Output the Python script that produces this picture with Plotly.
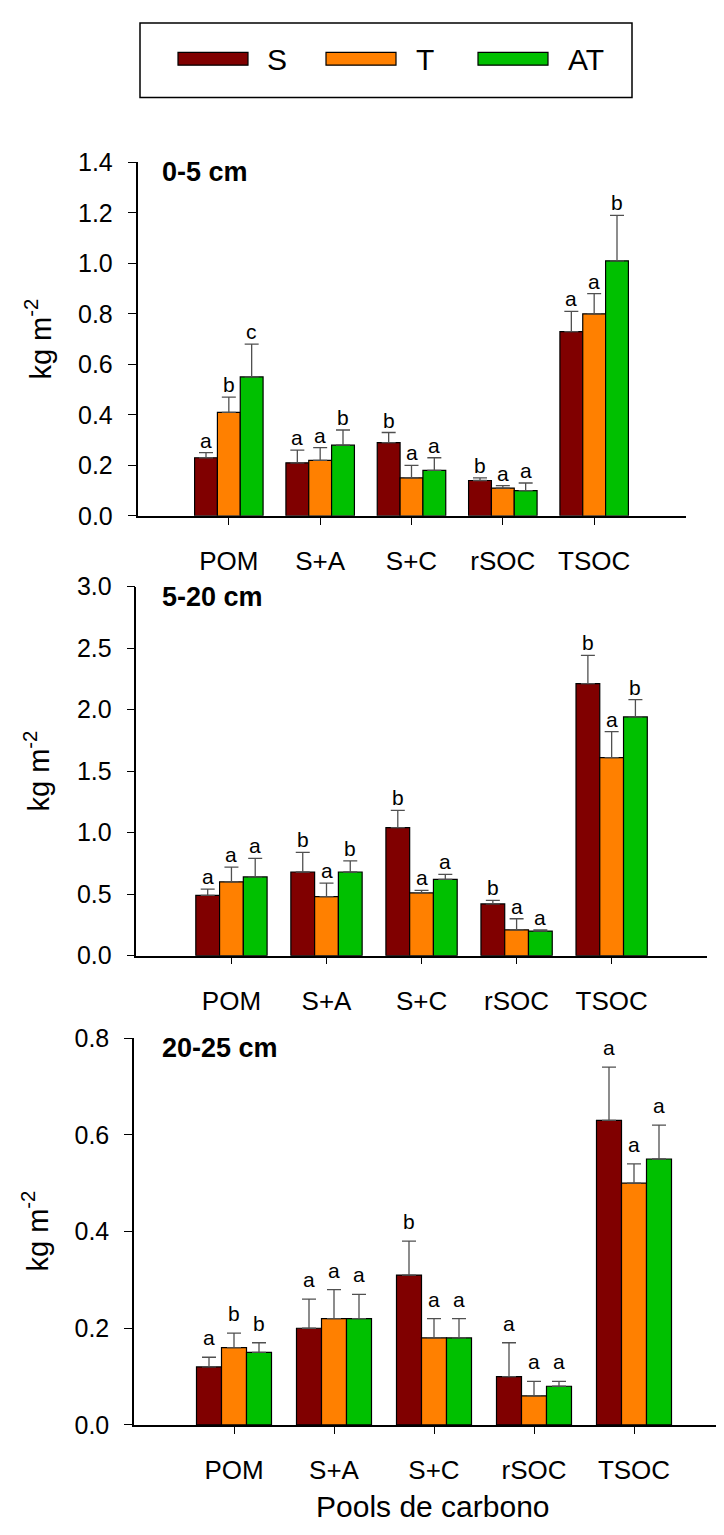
import plotly.graph_objects as go

categories = ["POM", "S+A", "S+C", "rSOC", "TSOC"]
treatments = ["S", "T", "AT"]
colors = ["#800000", "#FF8000", "#00C000"]

# ---- 0-5 cm ----
d1_S = [0.23, 0.21, 0.29, 0.14, 0.73]
d1_T = [0.41, 0.22, 0.15, 0.11, 0.80]
d1_AT = [0.55, 0.28, 0.18, 0.10, 1.01]
e1_S = [0.02, 0.05, 0.04, 0.01, 0.08]
e1_T = [0.06, 0.05, 0.05, 0.01, 0.08]
e1_AT = [0.13, 0.06, 0.05, 0.03, 0.18]
l1_S = ["a", "a", "b", "b", "a"]
l1_T = ["b", "a", "a", "a", "a"]
l1_AT = ["c", "b", "a", "a", "b"]

# ---- 5-20 cm ----
d2_S = [0.49, 0.68, 1.04, 0.42, 2.21]
d2_T = [0.60, 0.48, 0.51, 0.21, 1.61]
d2_AT = [0.64, 0.68, 0.62, 0.20, 1.94]
e2_S = [0.05, 0.16, 0.14, 0.03, 0.23]
e2_T = [0.12, 0.11, 0.02, 0.09, 0.21]
e2_AT = [0.15, 0.09, 0.04, 0.01, 0.14]
l2_S = ["a", "b", "b", "b", "b"]
l2_T = ["a", "a", "a", "a", "a"]
l2_AT = ["a", "b", "a", "a", "b"]

# ---- 20-25 cm ----
d3_S = [0.12, 0.20, 0.31, 0.10, 0.63]
d3_T = [0.16, 0.22, 0.18, 0.06, 0.50]
d3_AT = [0.15, 0.22, 0.18, 0.08, 0.55]
e3_S = [0.02, 0.06, 0.07, 0.07, 0.11]
e3_T = [0.03, 0.06, 0.04, 0.03, 0.04]
e3_AT = [0.02, 0.05, 0.04, 0.01, 0.07]
l3_S = ["a", "a", "b", "a", "a"]
l3_T = ["b", "a", "a", "a", "a"]
l3_AT = ["b", "a", "a", "a", "a"]

panel_titles = ["0-5 cm", "5-20 cm", "20-25 cm"]
y_title = "kg m<sup>-2</sup>"
x_title = "Pools de carbono"

W, H = 724, 1535
OFF = 8  # page body margin
FONT = "Liberation Sans, Arial, sans-serif"
BARGAP = 0.25


def px(x):
    return (x - OFF) / W


def py(y):
    return 1 - (y - OFF) / H


panels = [
    dict(vals=[d1_S, d1_T, d1_AT], errs=[e1_S, e1_T, e1_AT], lets=[l1_S, l1_T, l1_AT],
         xdom=(137.5, 685.5), xrange=[-1, 5], ytop=151, ybot=511, yrange=[0, 1.4], dtick=0.2,
         lshift=-1, title_y=161),
    dict(vals=[d2_S, d2_T, d2_AT], errs=[e2_S, e2_T, e2_AT], lets=[l2_S, l2_T, l2_AT],
         xdom=(136.4, 706.7), xrange=[-1, 5], ytop=583, ybot=959, yrange=[0, 3.0], dtick=0.5,
         lshift=-1, title_y=594),
    dict(vals=[d3_S, d3_T, d3_AT], errs=[e3_S, e3_T, e3_AT], lets=[l3_S, l3_T, l3_AT],
         xdom=(134.0, 724.0), xrange=[-1, 4.9], ytop=1043, ybot=1437, yrange=[0, 0.8], dtick=0.2,
         lshift=6, title_y=1053),
]

fig = go.Figure()
annotations = []
shapes = []
xpos = list(range(len(categories)))
w = (1 - BARGAP) / 3

for p, pan in enumerate(panels):
    n = p + 1
    xa = "x" if n == 1 else f"x{n}"
    ya = "y" if n == 1 else f"y{n}"
    for k, tr in enumerate(treatments):
        fig.add_trace(go.Bar(
            x=xpos, y=pan["vals"][k], name=tr, xaxis=xa, yaxis=ya,
            marker=dict(color=colors[k], line=dict(color="black", width=1.2)),
            error_y=dict(type="data", array=pan["errs"][k], arrayminus=[0] * 5,
                         symmetric=False, color="#505050", thickness=1.3, width=7),
            showlegend=False, offsetgroup=str(k),
        ))
        for i in xpos:
            annotations.append(dict(
                x=i + (k - 1) * w, y=pan["vals"][k][i] + pan["errs"][k][i],
                xref=xa, yref=ya, text=pan["lets"][k][i], showarrow=False,
                yanchor="bottom", xanchor="center", yshift=pan["lshift"],
                font=dict(family=FONT, size=21, color="black")))
    xd = [px(pan["xdom"][0]), min(px(pan["xdom"][1]), 1.0)]
    yd = [py(pan["ybot"]), py(pan["ytop"])]
    axkey = "xaxis" if n == 1 else f"xaxis{n}"
    aykey = "yaxis" if n == 1 else f"yaxis{n}"
    fig.update_layout(**{
        axkey: dict(domain=xd, range=pan["xrange"], anchor=ya, showline=True,
                    linecolor="black", linewidth=1.5, ticks="outside", ticklen=7,
                    tickwidth=1.2, tickcolor="black", tickvals=xpos, ticktext=categories,
                    showgrid=False, zeroline=False, ticklabelstandoff=14,
                    tickfont=dict(family=FONT, size=26, color="black")),
        aykey: dict(domain=yd, range=pan["yrange"], anchor=xa, showline=True,
                    linecolor="black", linewidth=1.5, ticks="outside", ticklen=8,
                    tickwidth=1.2, tickcolor="black", dtick=pan["dtick"], tick0=0,
                    tickformat=".1f", showgrid=False, zeroline=False,
                    ticklabelstandoff=10,
                    tickfont=dict(family=FONT, size=25, color="black")),
    })
    # panel title
    annotations.append(dict(
        x=px(160), y=py(pan["title_y"]), xref="paper", yref="paper",
        text=f"<b>{panel_titles[p]}</b>",
        showarrow=False, xanchor="left", yanchor="middle",
        font=dict(family=FONT, size=27, color="black")))
    # y title
    annotations.append(dict(
        x=px(pan["xdom"][0] - 99), y=(yd[0] + yd[1]) / 2, xref="paper", yref="paper",
        text=y_title, textangle=-90, showarrow=False, xanchor="center", yanchor="middle",
        font=dict(family=FONT, size=29, color="black")))

# x title
annotations.append(dict(
    x=px(433), y=py(1520), xref="paper", yref="paper", text=x_title,
    showarrow=False, xanchor="center", yanchor="middle",
    font=dict(family=FONT, size=30, color="black")))

# legend box
shapes.append(dict(type="rect", xref="paper", yref="paper",
                   x0=px(140), x1=px(632), y0=py(85), y1=py(9),
                   line=dict(color="black", width=1.5), fillcolor="white"))
leg_rect_x = [178, 326, 478]
leg_text_x = [265, 414, 566]
for k, tr in enumerate(treatments):
    shapes.append(dict(type="rect", xref="paper", yref="paper",
                       x0=px(leg_rect_x[k]), x1=px(leg_rect_x[k] + 70),
                       y0=py(52), y1=py(39),
                       line=dict(color="black", width=1.2), fillcolor=colors[k]))
    annotations.append(dict(
        x=px(leg_text_x[k]), y=py(46), xref="paper", yref="paper", text=tr,
        showarrow=False, xanchor="left", yanchor="middle",
        font=dict(family=FONT, size=30, color="black")))

fig.update_layout(
    width=W, height=H, margin=dict(l=0, r=0, t=0, b=0),
    paper_bgcolor="white", plot_bgcolor="white",
    barmode="group", bargap=BARGAP, bargroupgap=0,
    showlegend=False, annotations=annotations, shapes=shapes,
    font=dict(family=FONT, color="black"),
)

fig.write_html("out.html")
